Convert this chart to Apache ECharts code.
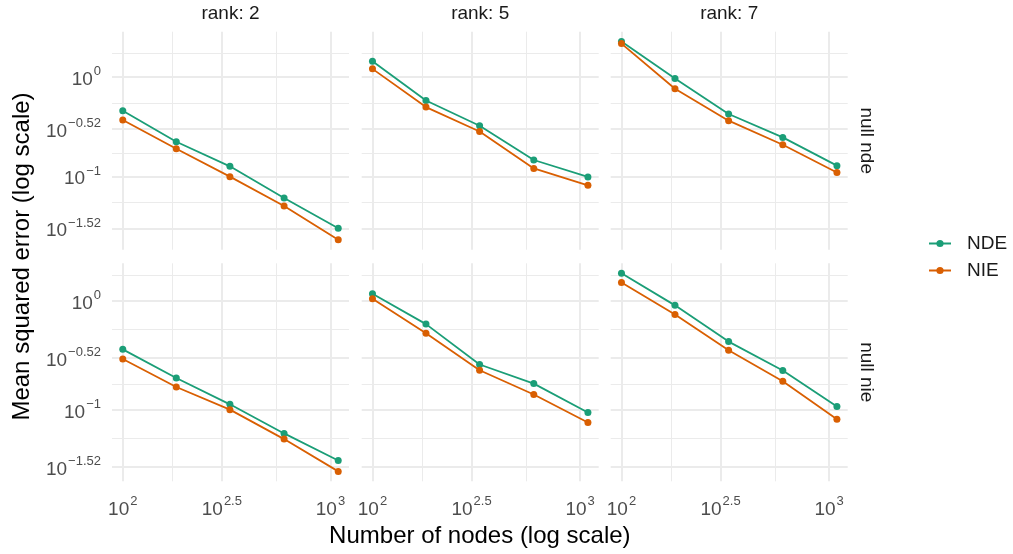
<!DOCTYPE html>
<html>
<head>
<meta charset="utf-8">
<script src="https://cdn.jsdelivr.net/npm/echarts@6/dist/echarts.min.js"></script>
<style>
  html, body { margin: 0; padding: 0; background: #ffffff; }
  #chart { width: 1013px; height: 554px; }
</style>
</head>
<body>
<div id="chart"></div>
<script>
// Network sizes (x) shared by every panel
const nodes = [100, 181, 328, 598, 1090];

// Facet labels
const rankLabels = ['rank: 2', 'rank: 5', 'rank: 7'];
const nullLabels = ['null nde', 'null nie'];
const seriesNames = ['NDE', 'NIE'];

// Mean squared error, null nde row
const ndeNullNdeRank2 = [0.459, 0.224, 0.127, 0.0611, 0.0303];
const nieNullNdeRank2 = [0.371, 0.191, 0.100, 0.0508, 0.0232];
const ndeNullNdeRank5 = [1.445, 0.582, 0.325, 0.147, 0.0993];
const nieNullNdeRank5 = [1.211, 0.500, 0.284, 0.121, 0.0818];
const ndeNullNdeRank7 = [2.275, 0.968, 0.426, 0.248, 0.129];
const nieNullNdeRank7 = [2.173, 0.764, 0.365, 0.209, 0.110];

// Mean squared error, null nie row
const ndeNullNieRank2 = [0.361, 0.197, 0.113, 0.0611, 0.0345];
const nieNullNieRank2 = [0.294, 0.163, 0.101, 0.0542, 0.0274];
const ndeNullNieRank5 = [1.169, 0.615, 0.262, 0.175, 0.0951];
const nieNullNieRank5 = [1.052, 0.506, 0.232, 0.139, 0.0769];
const ndeNullNieRank7 = [1.803, 0.914, 0.425, 0.231, 0.108];
const nieNullNieRank7 = [1.483, 0.755, 0.354, 0.184, 0.0826];

// Axis breaks and their exponent labels
const xBreaks = [100, 300, 1000];
const xTickLabels = ['2', '2.5', '3'];
const yBreaks = [3, 1, 0.3, 0.1, 0.03, 0.01];
const yTickLabels = ['0.48', '0', '\u22120.52', '\u22121', '\u22121.52', '\u22122'];

const panelData = [
  [[ndeNullNdeRank2, nieNullNdeRank2], [ndeNullNdeRank5, nieNullNdeRank5], [ndeNullNdeRank7, nieNullNdeRank7]],
  [[ndeNullNieRank2, nieNullNieRank2], [ndeNullNieRank5, nieNullNieRank5], [ndeNullNieRank7, nieNullNieRank7]]
];

const colors = ['#1B9E77', '#D95F02'];
const FONT = '"Liberation Sans", Arial, sans-serif';
const GRID_COLOR = '#EBEBEB';

// Panel layout (pixels)
const panelLeft = [112, 361.7, 610.7];
const panelWidth = 237;
const panelTop = [31.7, 263.3];
const panelHeight = 218;

const lg = Math.log10;
function expand(lo, hi) { const d = (hi - lo) * 0.05; return [lo - d, hi + d]; }
function midpoints(arr) { const out = []; for (let i = 0; i < arr.length - 1; i++) out.push((arr[i] + arr[i + 1]) / 2); return out; }

const xLogBreaks = xBreaks.map(lg);
const yLogBreaks = yBreaks.map(lg);
const xExt = expand(lg(Math.min(...nodes)), lg(Math.max(...nodes)));
const rowExt = panelData.map(row => {
  const all = [].concat(...row.map(p => [].concat(...p))).map(lg);
  return expand(Math.min(...all), Math.max(...all));
});

const inside = (vals, ext) => vals.filter(v => v >= ext[0] - 1e-9 && v <= ext[1] + 1e-9);
function labelFor(v, logs, labels) {
  let best = 0;
  logs.forEach((l, i) => { if (Math.abs(l - v) < Math.abs(logs[best] - v)) best = i; });
  return '{b|10}{s|' + labels[best] + '}';
}

const rich = {
  b: { fontSize: 19, color: '#4D4D4D', fontFamily: FONT, lineHeight: 24, verticalAlign: 'bottom' },
  s: { fontSize: 13, color: '#4D4D4D', fontFamily: FONT, lineHeight: 24, verticalAlign: 'top', padding: [0, 0, 0, 1] }
};

const grids = [], xAxes = [], yAxes = [], series = [];
for (let r = 0; r < 2; r++) {
  for (let c = 0; c < 3; c++) {
    const g = grids.length;
    grids.push({ left: panelLeft[c], top: panelTop[r], width: panelWidth, height: panelHeight, containLabel: false });
    const yExt = rowExt[r];
    const xMajor = inside(xLogBreaks, xExt);
    const xMinor = inside(midpoints(xLogBreaks), xExt);
    const yMajor = inside(yLogBreaks, yExt);
    const yMinor = inside(midpoints(yLogBreaks), yExt);
    // major x
    xAxes.push({
      type: 'value', gridIndex: g, min: xExt[0], max: xExt[1], position: 'bottom',
      axisLine: { show: false }, axisTick: { show: false, customValues: xMajor },
      axisLabel: {
        show: r === 1, customValues: xMajor, margin: 14,
        formatter: v => labelFor(v, xLogBreaks, xTickLabels), rich: rich
      },
      splitLine: { show: true, lineStyle: { color: GRID_COLOR, width: 2 } }, z: 1
    });
    // minor x
    xAxes.push({
      type: 'value', gridIndex: g, min: xExt[0], max: xExt[1], position: 'bottom',
      axisLine: { show: false }, axisTick: { show: false, customValues: xMinor },
      axisLabel: { show: false, customValues: xMinor },
      splitLine: { show: true, lineStyle: { color: GRID_COLOR, width: 1 } }, z: 0
    });
    // major y
    yAxes.push({
      type: 'value', gridIndex: g, min: yExt[0], max: yExt[1], position: 'left',
      axisLine: { show: false }, axisTick: { show: false, customValues: yMajor },
      axisLabel: {
        show: c === 0, customValues: yMajor, margin: 11, align: 'right',
        formatter: v => labelFor(v, yLogBreaks, yTickLabels), rich: rich
      },
      splitLine: { show: true, lineStyle: { color: GRID_COLOR, width: 2 } }, z: 1
    });
    // minor y
    yAxes.push({
      type: 'value', gridIndex: g, min: yExt[0], max: yExt[1], position: 'left',
      axisLine: { show: false }, axisTick: { show: false, customValues: yMinor },
      axisLabel: { show: false, customValues: yMinor },
      splitLine: { show: true, lineStyle: { color: GRID_COLOR, width: 1 } }, z: 0
    });
    panelData[r][c].forEach((vals, k) => {
      series.push({
        name: seriesNames[k], type: 'line',
        xAxisIndex: 2 * g, yAxisIndex: 2 * g,
        data: nodes.map((n, i) => [lg(n), lg(vals[i])]),
        symbol: 'circle', symbolSize: 7, showSymbol: true,
        lineStyle: { color: colors[k], width: 1.8 },
        itemStyle: { color: colors[k] },
        emphasis: { disabled: true }, animation: false, z: 3
      });
    });
  }
}

// Facet strips and axis titles
const graphics = [];
rankLabels.forEach((t, c) => {
  graphics.push({
    type: 'text', x: panelLeft[c] + panelWidth / 2, y: 14,
    style: { text: t, font: '19px ' + FONT, fill: '#1A1A1A', textAlign: 'center', textVerticalAlign: 'middle' }
  });
});
nullLabels.forEach((t, r) => {
  graphics.push({
    type: 'text', x: 866, y: panelTop[r] + panelHeight / 2, rotation: -Math.PI / 2,
    style: { text: t, font: '19px ' + FONT, fill: '#1A1A1A', textAlign: 'center', textVerticalAlign: 'middle' }
  });
});
graphics.push({
  type: 'text', x: (panelLeft[0] + panelLeft[2] + panelWidth) / 2, y: 536,
  style: { text: 'Number of nodes (log scale)', font: '24px ' + FONT, fill: '#000000', textAlign: 'center', textVerticalAlign: 'middle' }
});
graphics.push({
  type: 'text', x: 22, y: (panelTop[0] + panelTop[1] + panelHeight) / 2, rotation: Math.PI / 2,
  style: { text: 'Mean squared error (log scale)', font: '24px ' + FONT, fill: '#000000', textAlign: 'center', textVerticalAlign: 'middle' }
});

const chart = echarts.init(document.getElementById('chart'), null, { renderer: 'canvas' });
chart.setOption({
  backgroundColor: '#ffffff',
  animation: false,
  grid: grids,
  xAxis: xAxes,
  yAxis: yAxes,
  series: series,
  legend: {
    data: seriesNames, orient: 'vertical', left: 923, top: 229,
    itemWidth: 22, itemHeight: 9, itemGap: 8,
    itemStyle: { borderWidth: 0 },
    lineStyle: { width: 2 },
    textStyle: { fontSize: 19, color: '#1A1A1A', fontFamily: FONT, padding: [0, 0, 0, 11] },
    selectedMode: false
  },
  graphic: graphics
});
</script>
</body>
</html>
